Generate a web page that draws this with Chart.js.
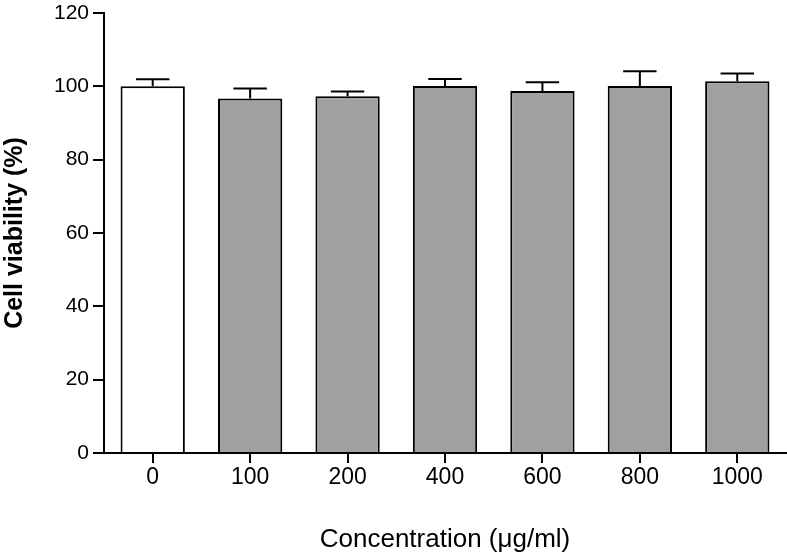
<!DOCTYPE html>
<html>
<head>
<meta charset="utf-8">
<script src="https://cdn.jsdelivr.net/npm/chart.js@4.4.1/dist/chart.umd.min.js"></script>
<style>
  html, body { margin: 0; padding: 0; background: #fff; }
  #wrap { width: 787px; height: 556px; position: relative; }
</style>
</head>
<body>
<div id="wrap"><canvas id="myChart"></canvas></div>
<script>
const concentrations = ['0', '100', '200', '400', '600', '800', '1000'];
const viability = [100.0, 96.7, 97.3, 100.1, 98.7, 100.1, 101.4];
const viabilitySD = [1.9, 2.7, 1.3, 1.9, 2.4, 4.0, 2.1];
const barColors = ['#ffffff', '#a0a0a0', '#a0a0a0', '#a0a0a0', '#a0a0a0', '#a0a0a0', '#a0a0a0'];
const yTicks = [0, 20, 40, 60, 80, 100, 120];

const font = 'Liberation Sans, Arial, sans-serif';

// upper error bars, drawn from the data through the scales
const errorBars = {
    id: 'errorBars',
    afterDatasetsDraw(c) {
        const meta = c.getDatasetMeta(0), y = c.scales.y, ctx = c.ctx;
        ctx.save();
        ctx.strokeStyle = '#000'; ctx.lineWidth = 2;
        meta.data.forEach((bar, i) => {
            const top = y.getPixelForValue(viability[i] + viabilitySD[i]);
            const half = bar.width * 0.26;
            ctx.beginPath();
            ctx.moveTo(bar.x, bar.y); ctx.lineTo(bar.x, top);
            ctx.moveTo(bar.x - half, top); ctx.lineTo(bar.x + half, top);
            ctx.stroke();
        });
        ctx.restore();
    }
};

new Chart(document.getElementById('myChart'), {
    type: 'bar',
    data: {
        labels: concentrations,
        datasets: [{
            data: viability,
            backgroundColor: barColors,
            borderColor: '#000', borderWidth: 2,
            barPercentage: 0.66, categoryPercentage: 1
        }]
    },
    options: {
        responsive: true, maintainAspectRatio: false, animation: false,
        layout: { padding: { top: 0, right: 1, left: 0, bottom: 0 } },
        plugins: { legend: { display: false }, tooltip: { enabled: false } },
        scales: {
            x: {
                grid: { display: true, offset: false, drawOnChartArea: false, drawTicks: true, tickLength: 10, color: '#000', lineWidth: 2 },
                border: { color: '#000', width: 2 },
                ticks: { color: '#000', font: { family: font, size: 23 }, padding: 1 },
                title: { display: true, text: 'Concentration (μg/ml)', color: '#000', font: { family: font, size: 26 }, padding: { top: 0, bottom: 1 } },
                afterFit: s => { s.height = 103; }
            },
            y: {
                min: 0, max: 120,
                afterBuildTicks: s => { s.ticks = yTicks.map(v => ({ value: v })); },
                grid: { display: true, drawOnChartArea: false, drawTicks: true, tickLength: 11, color: '#000', lineWidth: 2 },
                border: { color: '#000', width: 2 },
                ticks: { color: '#000', font: { family: font, size: 21 }, padding: 4 },
                title: { display: true, text: 'Cell viability (%)', color: '#000', font: { family: font, size: 25, weight: 'bold' }, padding: { top: 0, bottom: 10 } },
                afterFit: s => { s.width = 104; s.paddingTop = 13; }
            }
        }
    },
    plugins: [errorBars]
});
</script>
</body>
</html>
